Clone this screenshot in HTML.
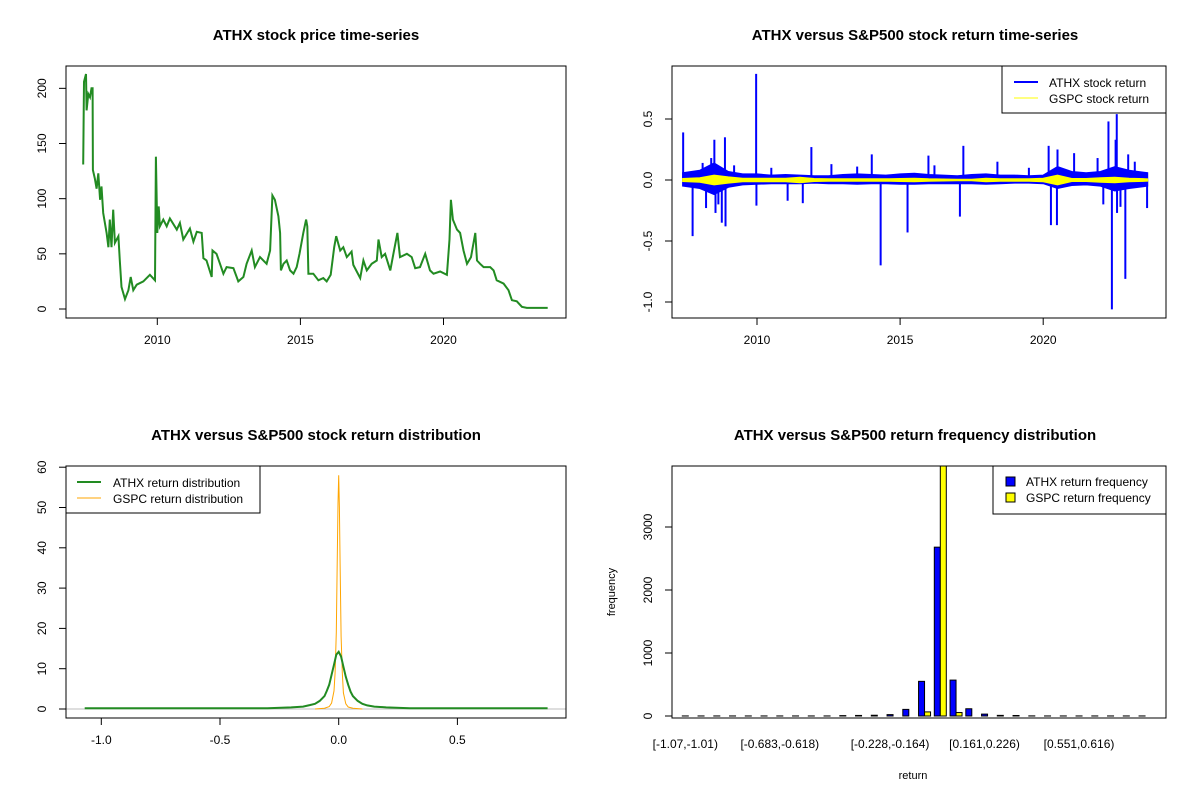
<!DOCTYPE html>
<html><head><meta charset="utf-8"><style>
html,body{margin:0;padding:0;background:#fff;}
svg{display:block;font-family:"Liberation Sans",Arial,sans-serif;}
</style></head><body>
<svg id="root" width="1200" height="800" viewBox="0 0 1200 800">
<rect x="0" y="0" width="1200" height="800" fill="#fff"/>
</svg>
<script>
// ---------- Panel 1 data: ATHX price ----------
const priceYears=[2007.41,2007.44,2007.51,2007.53,2007.59,2007.65,2007.70,2007.74,2007.75,2007.82,2007.88,2007.94,2008.0,2008.05,2008.11,2008.23,2008.29,2008.34,2008.40,2008.46,2008.52,2008.64,2008.69,2008.75,2008.87,2008.99,2009.07,2009.16,2009.28,2009.51,2009.74,2009.92,2009.95,2010.0,2010.05,2010.09,2010.21,2010.33,2010.44,2010.68,2010.79,2010.91,2011.14,2011.26,2011.38,2011.55,2011.61,2011.72,2011.90,2011.93,2012.07,2012.19,2012.31,2012.42,2012.66,2012.83,2013.01,2013.12,2013.30,2013.41,2013.59,2013.82,2013.94,2014.02,2014.11,2014.23,2014.29,2014.32,2014.41,2014.52,2014.64,2014.76,2014.87,2014.97,2015.10,2015.20,2015.24,2015.28,2015.45,2015.63,2015.80,2015.92,2016.06,2016.18,2016.25,2016.39,2016.50,2016.62,2016.79,2016.85,2017.09,2017.20,2017.32,2017.49,2017.67,2017.73,2017.84,2017.96,2018.14,2018.25,2018.39,2018.48,2018.72,2018.89,2019.01,2019.18,2019.36,2019.53,2019.65,2019.88,2020.12,2020.21,2020.26,2020.33,2020.47,2020.58,2020.70,2020.82,2020.96,2021.11,2021.17,2021.28,2021.40,2021.63,2021.75,2021.86,2022.10,2022.27,2022.39,2022.56,2022.74,2022.91,2023.64];
const prices=[131,206,213,180,195,192,200,200,126,118,109,123,99,111,87,69,56,81,56,90,60,66,44,20,9,17,29,17,22,25,31,26,138,69,93,75,81,75,82,72,78,63,73,61,70,69,46,44,29,53,50,41,32,38,37,25,29,41,53,38,47,41,53,103,99,84,69,35,41,44,35,32,38,50,69,81,75,32,32,26,28,25,31,56,66,53,56,47,52,40,28,44,35,41,44,63,47,50,35,50,69,47,50,47,37,38,50,35,32,34,31,63,99,81,72,69,53,41,47,69,44,41,38,38,35,26,23,17,8,7,2,1,1];
const priceTicks=[0,50,100,150,200];
const yearTicks=[2010,2015,2020];

// ---------- Panel 2 data: returns ----------
const spikeYears=[2007.42,2007.75,2008.22,2008.51,2008.55,2008.77,2008.88,2008.90,2009.97,2009.98,2011.07,2011.60,2011.90,2014.01,2014.32,2015.26,2015.99,2017.09,2017.21,2020.19,2020.27,2020.48,2020.50,2021.08,2022.28,2022.40,2022.57,2022.58,2022.53,2022.87,2022.97,2023.63,2008.1,2008.4,2008.65,2009.2,2010.5,2012.6,2013.5,2016.2,2018.4,2019.5,2021.9,2022.1,2022.7,2023.2];
const spikeValues=[0.39,-0.46,-0.23,0.33,-0.27,-0.35,0.35,-0.38,0.87,-0.21,-0.17,-0.19,0.27,0.21,-0.70,-0.43,0.20,-0.30,0.28,0.28,-0.37,-0.37,0.25,0.22,0.48,-1.06,0.54,-0.27,0.33,-0.81,0.21,-0.23,0.14,0.18,-0.2,0.12,0.1,0.13,0.11,0.12,0.15,0.1,0.18,-0.2,-0.22,0.15];
const bandYears=[2007.4,2008,2008.5,2009,2009.5,2010,2010.5,2011,2011.5,2012,2012.5,2013,2013.5,2014,2014.5,2015,2015.5,2016,2016.5,2017,2017.5,2018,2018.5,2019,2019.5,2020,2020.5,2021,2021.5,2022,2022.5,2023,2023.65];
const athxHi=[0.06,0.08,0.14,0.07,0.05,0.05,0.04,0.045,0.04,0.035,0.035,0.045,0.05,0.045,0.04,0.05,0.055,0.045,0.04,0.035,0.045,0.05,0.04,0.04,0.035,0.04,0.11,0.07,0.06,0.07,0.11,0.08,0.06];
const athxLo=[-0.05,-0.07,-0.12,-0.06,-0.04,-0.035,-0.03,-0.03,-0.03,-0.025,-0.03,-0.03,-0.035,-0.03,-0.03,-0.035,-0.035,-0.03,-0.03,-0.03,-0.03,-0.035,-0.03,-0.025,-0.025,-0.03,-0.07,-0.045,-0.04,-0.05,-0.09,-0.07,-0.05];
const gspcAmp=[0.012,0.018,0.04,0.025,0.015,0.015,0.015,0.015,0.022,0.012,0.01,0.01,0.01,0.01,0.01,0.012,0.015,0.01,0.008,0.006,0.006,0.015,0.01,0.01,0.01,0.015,0.04,0.012,0.012,0.018,0.022,0.015,0.01];
const returnTicks=[-1.0,-0.5,0.0,0.5];

// ---------- Panel 3 data: densities ----------
const athxDensX=[-1.07,-0.3,-0.2,-0.15,-0.12,-0.1,-0.08,-0.06,-0.05,-0.04,-0.03,-0.02,-0.01,0,0.01,0.02,0.03,0.04,0.05,0.06,0.08,0.1,0.12,0.15,0.2,0.3,0.88];
const athxDensY=[0.2,0.2,0.4,0.6,1.0,1.3,2.0,3.2,4.5,6.0,8.5,11,13.5,14.2,13,10.5,8,6,4.3,3.2,2.0,1.3,0.9,0.6,0.4,0.2,0.2];
const gspcDensX=[-0.1,-0.06,-0.04,-0.03,-0.02,-0.015,-0.01,-0.006,-0.003,0,0.003,0.006,0.01,0.015,0.02,0.03,0.04,0.06,0.1];
const gspcDensY=[0,0.2,0.6,1.5,4.5,9,19,38,51,58,50,36,18,9,4,1.3,0.5,0.2,0];
const densXTicks=[-1.0,-0.5,0.0,0.5];
const densYTicks=[0,10,20,30,40,50,60];

// ---------- Panel 4 data: histogram ----------
const binLabels=["[-1.07,-1.01)","","","","","","[-0.683,-0.618)","","","","","","","[-0.228,-0.164)","","","","","","[0.161,0.226)","","","","","","[0.551,0.616)","","","",""];
const athxFreq=[1,1,1,1,1,1,1,1,1,1,6,9,12,22,105,550,2680,570,115,30,10,8,2,1,1,1,1,1,1,1];
const gspcFreq=[0,0,0,0,0,0,0,0,0,0,0,0,0,0,0,65,4200,55,0,0,0,0,0,0,0,0,0,0,0,0];
const freqTicks=[0,1000,2000,3000];

const NS="http://www.w3.org/2000/svg";
const root=document.getElementById('root');
function mk(tag,attrs,parent){const e=document.createElementNS(NS,tag);for(const k in attrs)e.setAttribute(k,attrs[k]);(parent||root).appendChild(e);return e;}
function txt(s,x,y,size,extra,parent){const t=mk('text',Object.assign({x:x,y:y,'font-size':size,'text-anchor':'middle',fill:'#000'},extra||{}),parent);t.textContent=s;return t;}

// ===== Panel 1 =====
(function(){
  const L=66,R=566,T=66,B=318;
  const g=mk('g',{});
  
  
  const sx=v=>157.3+(v-2010)*28.62, sy=v=>309-v*1.1033;
  const tt=txt('ATHX stock price time-series',316,40,15,{'font-weight':'bold'},g);
  
  
  const cp=mk('clipPath',{id:'c1'},g);mk('rect',{x:L,y:T,width:R-L,height:B-T},cp);
  let d='';priceYears.forEach((y,i)=>{d+=(i?'L':'M')+sx(y).toFixed(1)+','+sy(prices[i]).toFixed(1);});
  const p=mk('path',{d:d,fill:'none',stroke:'#228B22','stroke-width':2,'clip-path':'url(#c1)'},g);
  
  
  mk('rect',{x:L,y:T,width:R-L,height:B-T,fill:'none',stroke:'#000'},g);
  priceTicks.forEach(v=>{mk('line',{x1:L-7,x2:L,y1:sy(v),y2:sy(v),stroke:'#000'},g);
    const t=txt(String(v),0,0,12,{transform:`translate(46,${sy(v)}) rotate(-90)`},g);
    
    });
  mk('line',{x1:sx(2010),x2:sx(2020),y1:B,y2:B,stroke:'#000'},g);
  yearTicks.forEach(v=>{mk('line',{x1:sx(v),x2:sx(v),y1:B,y2:B+7,stroke:'#000'},g);
    const t=txt(String(v),sx(v),344,12,{},g);
    
    });
})();

// ===== Panel 2 =====
(function(){
  const L=672,R=1166,T=66,B=318;
  const g=mk('g',{});
  
  
  const sx=v=>757+(v-2010)*28.62, sy=v=>180-v*122;
  const tt=txt('ATHX versus S&P500 stock return time-series',915,40,15,{'font-weight':'bold'},g);
  
  
  const cp=mk('clipPath',{id:'c2'},g);mk('rect',{x:L,y:T,width:R-L,height:B-T},cp);
  const cg=mk('g',{'clip-path':'url(#c2)'},g);
  function band(hi,lo,col,name){let d='';
    bandYears.forEach((y,i)=>{d+=(i?'L':'M')+sx(y).toFixed(1)+','+sy(hi[i]).toFixed(1);});
    for(let i=bandYears.length-1;i>=0;i--)d+='L'+sx(bandYears[i]).toFixed(1)+','+sy(lo[i]).toFixed(1);
    const p=mk('path',{d:d+'Z',fill:col,stroke:col,'stroke-width':1},cg);
    
    }
  band(athxHi,athxLo,'#0000ff','athx-return-band');
  spikeYears.forEach((y,i)=>{const l=mk('line',{x1:sx(y),x2:sx(y),y1:sy(0),y2:sy(spikeValues[i]),stroke:'#0000ff','stroke-width':2},cg);
    
    });
  band(gspcAmp,gspcAmp.map(v=>-v),'#ffff00','gspc-return-band');
  mk('rect',{x:L,y:T,width:R-L,height:B-T,fill:'none',stroke:'#000'},g);
  returnTicks.forEach(v=>{mk('line',{x1:L-7,x2:L,y1:sy(v),y2:sy(v),stroke:'#000'},g);
    const t=txt(v.toFixed(1),0,0,12,{transform:`translate(652,${sy(v)}) rotate(-90)`},g);
    
    });
  mk('line',{x1:sx(2010),x2:sx(2020),y1:B,y2:B,stroke:'#000'},g);
  yearTicks.forEach(v=>{mk('line',{x1:sx(v),x2:sx(v),y1:B,y2:B+7,stroke:'#000'},g);
    const t=txt(String(v),sx(v),344,12,{},g);
    
    });
  const lg=mk('g',{},g);
  
  
  mk('rect',{x:1002,y:66,width:164,height:47,fill:'#fff',stroke:'#000'},lg);
  mk('line',{x1:1014,x2:1038,y1:82,y2:82,stroke:'#0000ff','stroke-width':2},lg);
  mk('line',{x1:1014,x2:1038,y1:98,y2:98,stroke:'#ffff00','stroke-width':1},lg);
  txt('ATHX stock return',1049,87,12,{'text-anchor':'start'},lg);
  txt('GSPC stock return',1049,103,12,{'text-anchor':'start'},lg);
})();

// ===== Panel 3 =====
(function(){
  const L=66,R=566,T=466,B=718;
  const g=mk('g',{});
  
  
  const sx=v=>338.7+v*237.4, sy=v=>709-v*4.03;
  const tt=txt('ATHX versus S&P500 stock return distribution',316,440,15,{'font-weight':'bold'},g);
  
  
  const cp=mk('clipPath',{id:'c3'},g);mk('rect',{x:L,y:T,width:R-L,height:B-T},cp);
  const cg=mk('g',{'clip-path':'url(#c3)'},g);
  mk('line',{x1:L,x2:R,y1:sy(0),y2:sy(0),stroke:'#bebebe'},cg);
  function curve(xs,ys,col,w,name){let d='';xs.forEach((x,i)=>{d+=(i?'L':'M')+sx(x).toFixed(1)+','+sy(ys[i]).toFixed(1);});
    const p=mk('path',{d:d,fill:'none',stroke:col,'stroke-width':w},cg);
    
    }
  curve(gspcDensX,gspcDensY,'#ffa500',1,'gspc-density-line');
  curve(athxDensX,athxDensY,'#228B22',2,'athx-density-line');
  mk('rect',{x:L,y:T,width:R-L,height:B-T,fill:'none',stroke:'#000'},g);
  densYTicks.forEach(v=>{mk('line',{x1:L-7,x2:L,y1:sy(v),y2:sy(v),stroke:'#000'},g);
    const t=txt(String(v),0,0,12,{transform:`translate(46,${sy(v)}) rotate(-90)`},g);
    
    });
  mk('line',{x1:sx(-1),x2:sx(0.5),y1:B,y2:B,stroke:'#000'},g);
  densXTicks.forEach(v=>{mk('line',{x1:sx(v),x2:sx(v),y1:B,y2:B+7,stroke:'#000'},g);
    const t=txt(v.toFixed(1),sx(v),744,12,{},g);
    
    });
  const lg=mk('g',{},g);
  
  
  mk('rect',{x:66,y:466,width:194,height:47,fill:'#fff',stroke:'#000'},lg);
  mk('line',{x1:77,x2:101,y1:482,y2:482,stroke:'#228B22','stroke-width':2},lg);
  mk('line',{x1:77,x2:101,y1:498,y2:498,stroke:'#ffa500','stroke-width':1},lg);
  txt('ATHX return distribution',113,487,12,{'text-anchor':'start'},lg);
  txt('GSPC return distribution',113,503,12,{'text-anchor':'start'},lg);
})();

// ===== Panel 4 =====
(function(){
  const L=672,R=1166,T=466,B=718;
  const g=mk('g',{});
  
  
  const bx=i=>682.3+i*15.75, sy=v=>716-v*0.063;
  const tt=txt('ATHX versus S&P500 return frequency distribution',915,440,15,{'font-weight':'bold'},g);
  
  
  const cp=mk('clipPath',{id:'c4'},g);mk('rect',{x:L,y:T,width:R-L,height:B-T},cp);
  const cg=mk('g',{'clip-path':'url(#c4)'},g);
  athxFreq.forEach((v,i)=>{const r=mk('rect',{x:bx(i),y:sy(v),width:6,height:Math.max(0,sy(0)-sy(v)),fill:'#0000ff',stroke:'#000','stroke-width':1},cg);
    
    });
  gspcFreq.forEach((v,i)=>{const r=mk('rect',{x:bx(i)+6,y:sy(v),width:6,height:Math.max(0,sy(0)-sy(v)),fill:'#ffff00',stroke:'#000','stroke-width':1},cg);
    
    });
  mk('rect',{x:L,y:T,width:R-L,height:B-T,fill:'none',stroke:'#000'},g);
  freqTicks.forEach(v=>{mk('line',{x1:L-7,x2:L,y1:sy(v),y2:sy(v),stroke:'#000'},g);
    const t=txt(String(v),0,0,12,{transform:`translate(652,${sy(v)}) rotate(-90)`},g);
    
    });
  binLabels.forEach((s,i)=>{if(!s)return;const t=txt(s,bx(i)+3,748,12,{},g);
    
    });
  const xl=txt('return',913,779,11,{},g);
  
  
  const yl=txt('frequency',0,0,11,{transform:'translate(615,592) rotate(-90)'},g);
  
  
  const lg=mk('g',{},g);
  
  
  mk('rect',{x:993,y:466,width:173,height:48,fill:'#fff',stroke:'#000'},lg);
  mk('rect',{x:1006,y:477,width:9,height:9,fill:'#0000ff',stroke:'#000'},lg);
  mk('rect',{x:1006,y:493,width:9,height:9,fill:'#ffff00',stroke:'#000'},lg);
  txt('ATHX return frequency',1026,486,12,{'text-anchor':'start'},lg);
  txt('GSPC return frequency',1026,502,12,{'text-anchor':'start'},lg);
})();
</script>
</body></html>
